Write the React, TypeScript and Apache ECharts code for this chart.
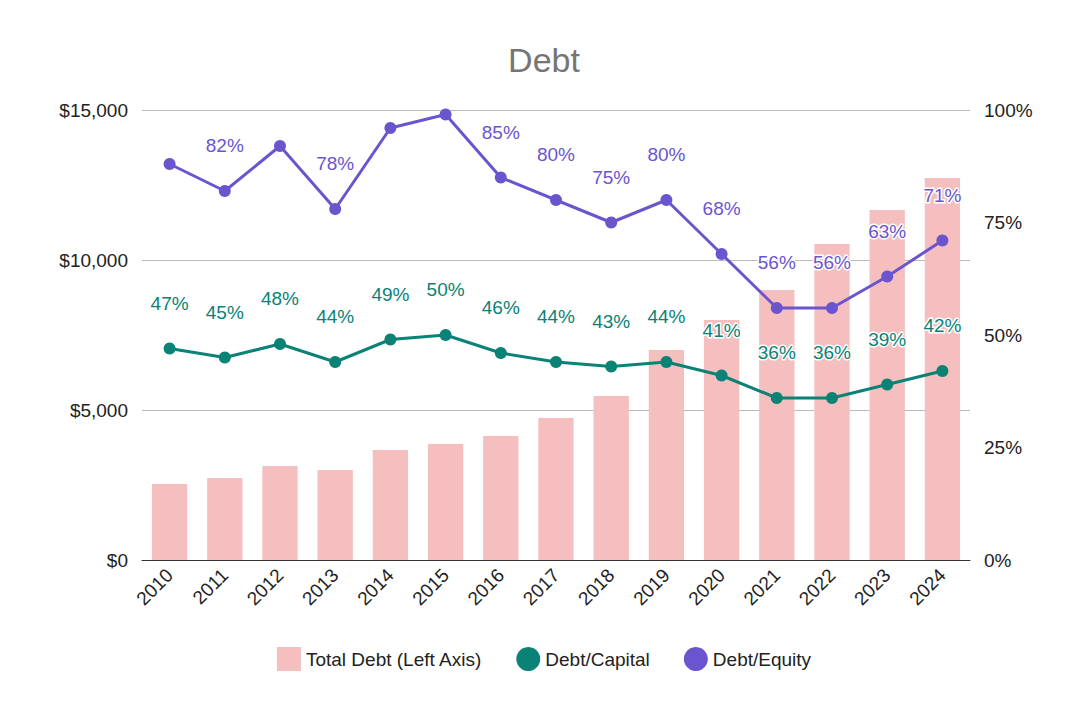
import { useRef, useEffect } from "react"
import * as echarts from "echarts"

const years = ["2010", "2011", "2012", "2013", "2014", "2015", "2016", "2017", "2018", "2019", "2020", "2021", "2022", "2023", "2024"]
const totalDebt = [2530, 2730, 3130, 3000, 3670, 3870, 4130, 4730, 5470, 7000, 8000, 9000, 10530, 11670, 12730]
const debtCapital = [47, 45, 48, 44, 49, 50, 46, 44, 43, 44, 41, 36, 36, 39, 42]
const debtEquity = [88, 82, 92, 78, 96, 99, 85, 80, 75, 80, 68, 56, 56, 63, 71]
const equityLabelShown = [false, true, false, true, false, false, true, true, true, true, true, true, true, true, true]

const font = "'Liberation Sans', Arial, sans-serif"

export default function App() {
  const chartRef = useRef<HTMLDivElement>(null)

  useEffect(() => {
    if (!chartRef.current) return
    const instance = echarts.init(chartRef.current, undefined, { renderer: "svg" })

    const pctLabel = (color: string) => ({
      show: true,
      position: "top",
      distance: 30,
      color,
      fontSize: 19,
      fontFamily: font,
      textBorderColor: "#fff",
      textBorderWidth: 3,
      formatter: (p: any) => p.value + "%",
    })

    instance.setOption({
      animation: false,
      title: {
        text: "Debt",
        left: "center",
        top: 30,
        textStyle: { color: "#757575", fontSize: 34, fontWeight: "normal", fontFamily: font },
      },
      legend: {
        top: 634,
        left: "center",
        itemGap: 34,
        textStyle: { fontSize: 19, color: "#222", fontFamily: font },
        data: [
          { name: "Total Debt (Left Axis)", icon: "rect", itemStyle: { color: "#f6bfbf" } },
          { name: "Debt/Capital", icon: "circle" },
          { name: "Debt/Equity", icon: "circle" },
        ],
        itemWidth: 24,
        itemHeight: 24,
      },
      grid: { left: 134, right: 110, top: 102, bottom: 134 },
      xAxis: {
        type: "category",
        data: years,
        axisTick: { show: false },
        axisLine: { lineStyle: { color: "#333" } },
        axisLabel: { rotate: 45, fontSize: 19, color: "#222", fontFamily: font, margin: 12 },
      },
      yAxis: [
        {
          type: "value",
          min: 0,
          max: 15000,
          interval: 5000,
          axisLabel: {
            fontSize: 19,
            color: "#222",
            fontFamily: font,
            margin: 14,
            formatter: (v: number) => "$" + v.toLocaleString("en-US"),
          },
          splitLine: { lineStyle: { color: "#bbb" } },
        },
        {
          type: "value",
          min: 0,
          max: 100,
          interval: 25,
          axisLabel: { fontSize: 19, color: "#222", fontFamily: font, margin: 14, formatter: "{value}%" },
          splitLine: { show: false },
        },
      ],
      series: [
        {
          name: "Total Debt (Left Axis)",
          type: "bar",
          data: totalDebt,
          barWidth: "64%",
          itemStyle: { color: "#f6bfbf" },
        },
        {
          name: "Debt/Capital",
          type: "line",
          yAxisIndex: 1,
          data: debtCapital,
          color: "#0a8276",
          symbol: "circle",
          symbolSize: 12,
          lineStyle: { width: 3 },
          label: pctLabel("#0a8276"),
        },
        {
          name: "Debt/Equity",
          type: "line",
          yAxisIndex: 1,
          data: debtEquity.map((v, i) => ({
            value: v,
            label: { show: equityLabelShown[i] },
          })),
          color: "#6a55cf",
          symbol: "circle",
          symbolSize: 12,
          lineStyle: { width: 3 },
          label: pctLabel("#6a55cf"),
        },
      ],
    })

    return () => instance.dispose()
  }, [])

  return <div ref={chartRef} style={{ width: 1072, height: 686 }} />
}
